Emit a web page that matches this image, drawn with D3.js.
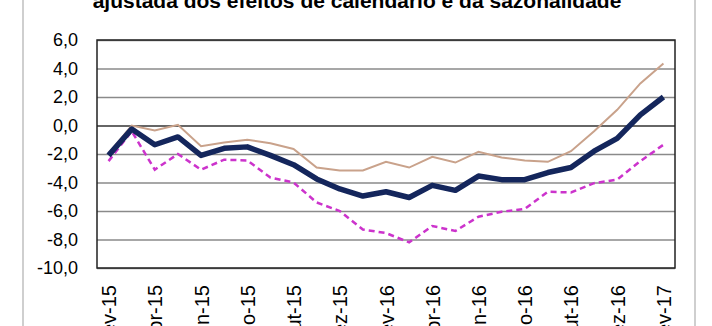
<!DOCTYPE html>
<html>
<head>
<meta charset="utf-8">
<script src="https://cdn.jsdelivr.net/npm/d3@7"></script>
<style>
  body { margin: 0; background: #fff; }
  text { font-family: "Liberation Sans", Arial, sans-serif; fill: #000; }
</style>
</head>
<body>
<div id="container"></div>
<script>
const months = ["fev-15","mar-15","abr-15","mai-15","jun-15","jul-15","ago-15","set-15","out-15","nov-15","dez-15","jan-16",
                "fev-16","mar-16","abr-16","mai-16","jun-16","jul-16","ago-16","set-16","out-16","nov-16","dez-16","jan-17","fev-17"];

const navySeries = [-2.1, -0.25, -1.35, -0.8, -2.1, -1.6, -1.5, -2.1, -2.75, -3.75, -4.45, -4.95,
                    -4.65, -5.05, -4.2, -4.55, -3.55, -3.8, -3.8, -3.3, -2.95, -1.8, -0.9, 0.75, 2.0];
const tanSeries = [-1.95, 0.0, -0.35, 0.05, -1.45, -1.2, -1.0, -1.25, -1.65, -2.95, -3.15, -3.15,
                   -2.55, -2.95, -2.2, -2.6, -1.85, -2.25, -2.45, -2.55, -1.8, -0.4, 1.1, 2.95, 4.35];
const pinkSeries = [-2.5, -0.4, -3.1, -2.0, -3.1, -2.4, -2.45, -3.65, -4.0, -5.4, -6.0, -7.3,
                    -7.55, -8.2, -7.05, -7.4, -6.4, -6.05, -5.85, -4.65, -4.7, -4.05, -3.8, -2.5, -1.35];

const yTicks = [6, 4, 2, 0, -2, -4, -6, -8, -10];
const xTickLabels = months.filter((m, i) => i % 2 === 0);

const WIDTH = 712, HEIGHT = 326;
const margin = { top: 40, left: 97, right: 37, bottom: 58 };
const width = WIDTH - margin.left - margin.right,
      height = HEIGHT - margin.top - margin.bottom;

const svg = d3.select('#container').append('svg')
    .attr("width", WIDTH).attr("height", HEIGHT);

// outer chart frame (only the sides are visible in the crop)
svg.append("rect")
    .attr("x", 23).attr("y", -20)
    .attr("width", 672).attr("height", 380)
    .attr("fill", "none").attr("stroke", "#cfcfcf").attr("stroke-width", 2);

svg.append("text")
    .attr("x", 357).attr("y", 8)
    .attr("text-anchor", "middle")
    .style("font-size", "21px").style("font-weight", "bold")
    .text("ajustada dos efeitos de calendário e da sazonalidade");

const container = svg.append('g').attr("transform", `translate(${margin.left}, ${margin.top})`);

const xScale = d3.scalePoint().domain(months).range([0, width]).padding(0.5);
const yScale = d3.scaleLinear().domain([-10, 6]).range([height, 0]);

const fmt = (d) => d.toFixed(1).replace(".", ",");

// gridlines + y labels
const yAxis = container.append("g")
    .call(d3.axisLeft(yScale).tickValues(yTicks).tickSize(-width).tickPadding(19).tickFormat(fmt));
yAxis.select(".domain").remove();
yAxis.selectAll("line")
    .attr("stroke", (d) => d === 0 ? "#333" : "#8a8a8a")
    .attr("stroke-width", 1.5);
yAxis.selectAll("text").style("font-size", "18px").attr("fill", "#000");

// x labels
const xAxis = container.append("g")
    .attr("transform", `translate(0, ${height})`)
    .call(d3.axisBottom(xScale).tickValues(xTickLabels).tickSize(0));
xAxis.select(".domain").remove();
xAxis.selectAll("text")
    .attr("transform", "rotate(-90)")
    .attr("x", -17).attr("y", 0).attr("dy", "0.35em")
    .style("text-anchor", "end")
    .style("font-size", "20px")
    .attr("fill", "#000");

// plot border
container.append("rect")
    .attr("width", width).attr("height", height)
    .attr("fill", "none").attr("stroke", "#222").attr("stroke-width", 1.5);

const line = d3.line()
    .x((d, i) => xScale(months[i]))
    .y((d) => yScale(d));

container.append("path").datum(tanSeries)
    .attr("d", line).attr("fill", "none")
    .attr("stroke", "#c9a28b").attr("stroke-width", 2);

container.append("path").datum(pinkSeries)
    .attr("d", line).attr("fill", "none")
    .attr("stroke", "#cc33cc").attr("stroke-width", 2.5)
    .attr("stroke-dasharray", "6,4");

container.append("path").datum(navySeries)
    .attr("d", line).attr("fill", "none")
    .attr("stroke", "#14265c").attr("stroke-width", 5.5)
    .attr("stroke-linejoin", "round");
</script>
</body>
</html>
